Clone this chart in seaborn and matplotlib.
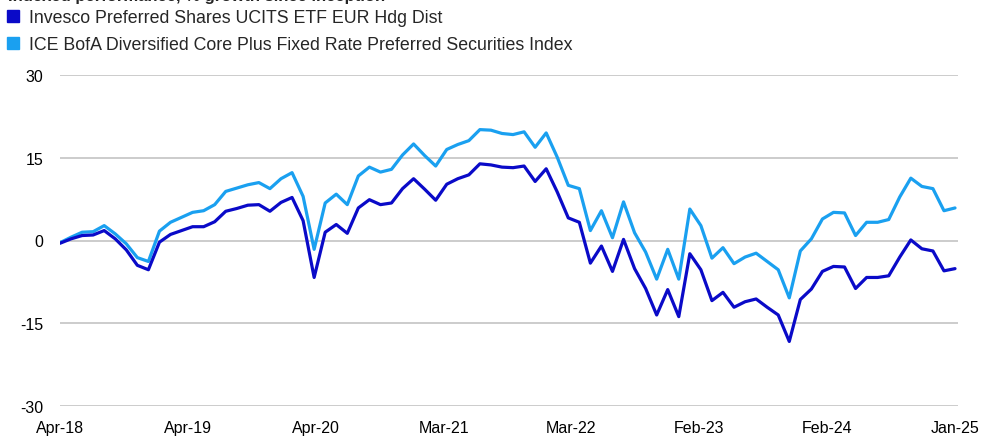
import numpy as np
import pandas as pd
import seaborn as sns
import matplotlib.pyplot as plt
from matplotlib.lines import Line2D

# monthly indexed performance (% growth since inception)
invesco = [-0.5, 0.3, 0.9, 1.0, 1.8, 0.3, -1.7, -4.5, -5.3, -0.3,
           1.1, 1.8, 2.5, 2.5, 3.4, 5.3, 5.8, 6.4, 6.5, 5.3,
           6.9, 7.8, 3.6, -6.7, 1.5, 2.9, 1.3, 5.9, 7.4, 6.5,
           6.8, 9.4, 11.2, 9.3, 7.3, 10.2, 11.2, 11.9, 13.9, 13.7,
           13.3, 13.2, 13.5, 10.7, 13.0, 8.8, 4.1, 3.3, -4.1, -1.0,
           -5.6, 0.2, -5.1, -8.7, -13.5, -8.9, -13.8, -2.4, -5.3, -10.9,
           -9.4, -12.1, -11.1, -10.6, -12.1, -13.5, -18.3, -10.7, -8.8, -5.6,
           -4.7, -4.8, -8.7, -6.7, -6.7, -6.4, -3.0, 0.1, -1.5, -1.9,
           -5.5, -5.1]
index = [-0.4, 0.6, 1.5, 1.6, 2.7, 1.2, -0.6, -3.1, -3.8, 1.7,
         3.3, 4.2, 5.1, 5.4, 6.5, 8.9, 9.5, 10.1, 10.5, 9.4,
         11.2, 12.3, 8.0, -1.6, 6.8, 8.4, 6.5, 11.7, 13.3, 12.4,
         12.9, 15.5, 17.5, 15.4, 13.5, 16.5, 17.4, 18.1, 20.1, 20.0,
         19.4, 19.2, 19.7, 16.9, 19.5, 15.1, 10.0, 9.4, 1.8, 5.4,
         0.5, 7.0, 1.4, -2.1, -7.0, -1.6, -7.0, 5.7, 2.7, -3.2,
         -1.3, -4.2, -3.0, -2.3, -3.8, -5.3, -10.4, -1.9, 0.3, 3.9,
         5.1, 5.0, 0.9, 3.3, 3.3, 3.8, 7.9, 11.3, 9.8, 9.4,
         5.4, 5.9]
tick_labels = ["Apr-18", "Apr-19", "Apr-20", "Mar-21", "Mar-22",
               "Feb-23", "Feb-24", "Jan-25"]
series_names = ["Invesco Preferred Shares UCITS ETF EUR Hdg Dist",
                "ICE BofA Diversified Core Plus Fixed Rate Preferred Securities Index"]
colors = ["#0a0ac8", "#1aa0f0"]

n = len(invesco)
df = pd.DataFrame({
    "t": list(range(n)) * 2,
    "value": invesco + index,
    "series": [series_names[0]] * n + [series_names[1]] * n,
})

sns.set_style("white")
plt.rcParams["font.family"] = ["Liberation Sans", "DejaVu Sans"]
plt.rcParams["axes.unicode_minus"] = False

fig = plt.figure(figsize=(9.94, 4.39), dpi=100)
ax = fig.add_axes([60 / 994, 32 / 439, 898 / 994, 331 / 439])

# index series first so the fund line sits on top
sns.lineplot(data=df, x="t", y="value", hue="series",
             hue_order=series_names[::-1], palette=colors[::-1],
             linewidth=2.3, legend=False, ax=ax)

ax.set_xlim(0, n - 1 + 0.27)
ax.set_ylim(-30, 30)
ax.set_yticks([-30, -15, 0, 15, 30])
ax.set_xticks(np.linspace(0, n - 1, len(tick_labels)))
ax.set_xticklabels(tick_labels)
ax.set_xlabel("")
ax.set_ylabel("")
ax.grid(axis="y", color="#c8c8c8", linewidth=1.3)
ax.set_axisbelow(True)
for s in ax.spines.values():
    s.set_visible(False)
ax.tick_params(axis="both", length=0, labelsize=11.5, labelcolor="#000000")
ax.tick_params(axis="y", pad=12)
ax.tick_params(axis="x", pad=10)

# title is cut off by the top edge in the original
fig.text(8 / 994, 1 + 4 / 439, "Indexed performance, % growth since inception",
         fontsize=12, fontweight="bold", va="center", ha="left")

handles = [Line2D([], [], marker="s", linestyle="none", markersize=8,
                  markerfacecolor=c, markeredgecolor=c) for c in colors]
fig.legend(handles, series_names, loc="upper left",
           bbox_to_anchor=(7 / 994, 1 - 10 / 439), frameon=False,
           fontsize=12.8, handlelength=0.7, handletextpad=0.55,
           labelspacing=0.55, borderaxespad=0, borderpad=0)

fig.savefig("out.png", dpi=100)
